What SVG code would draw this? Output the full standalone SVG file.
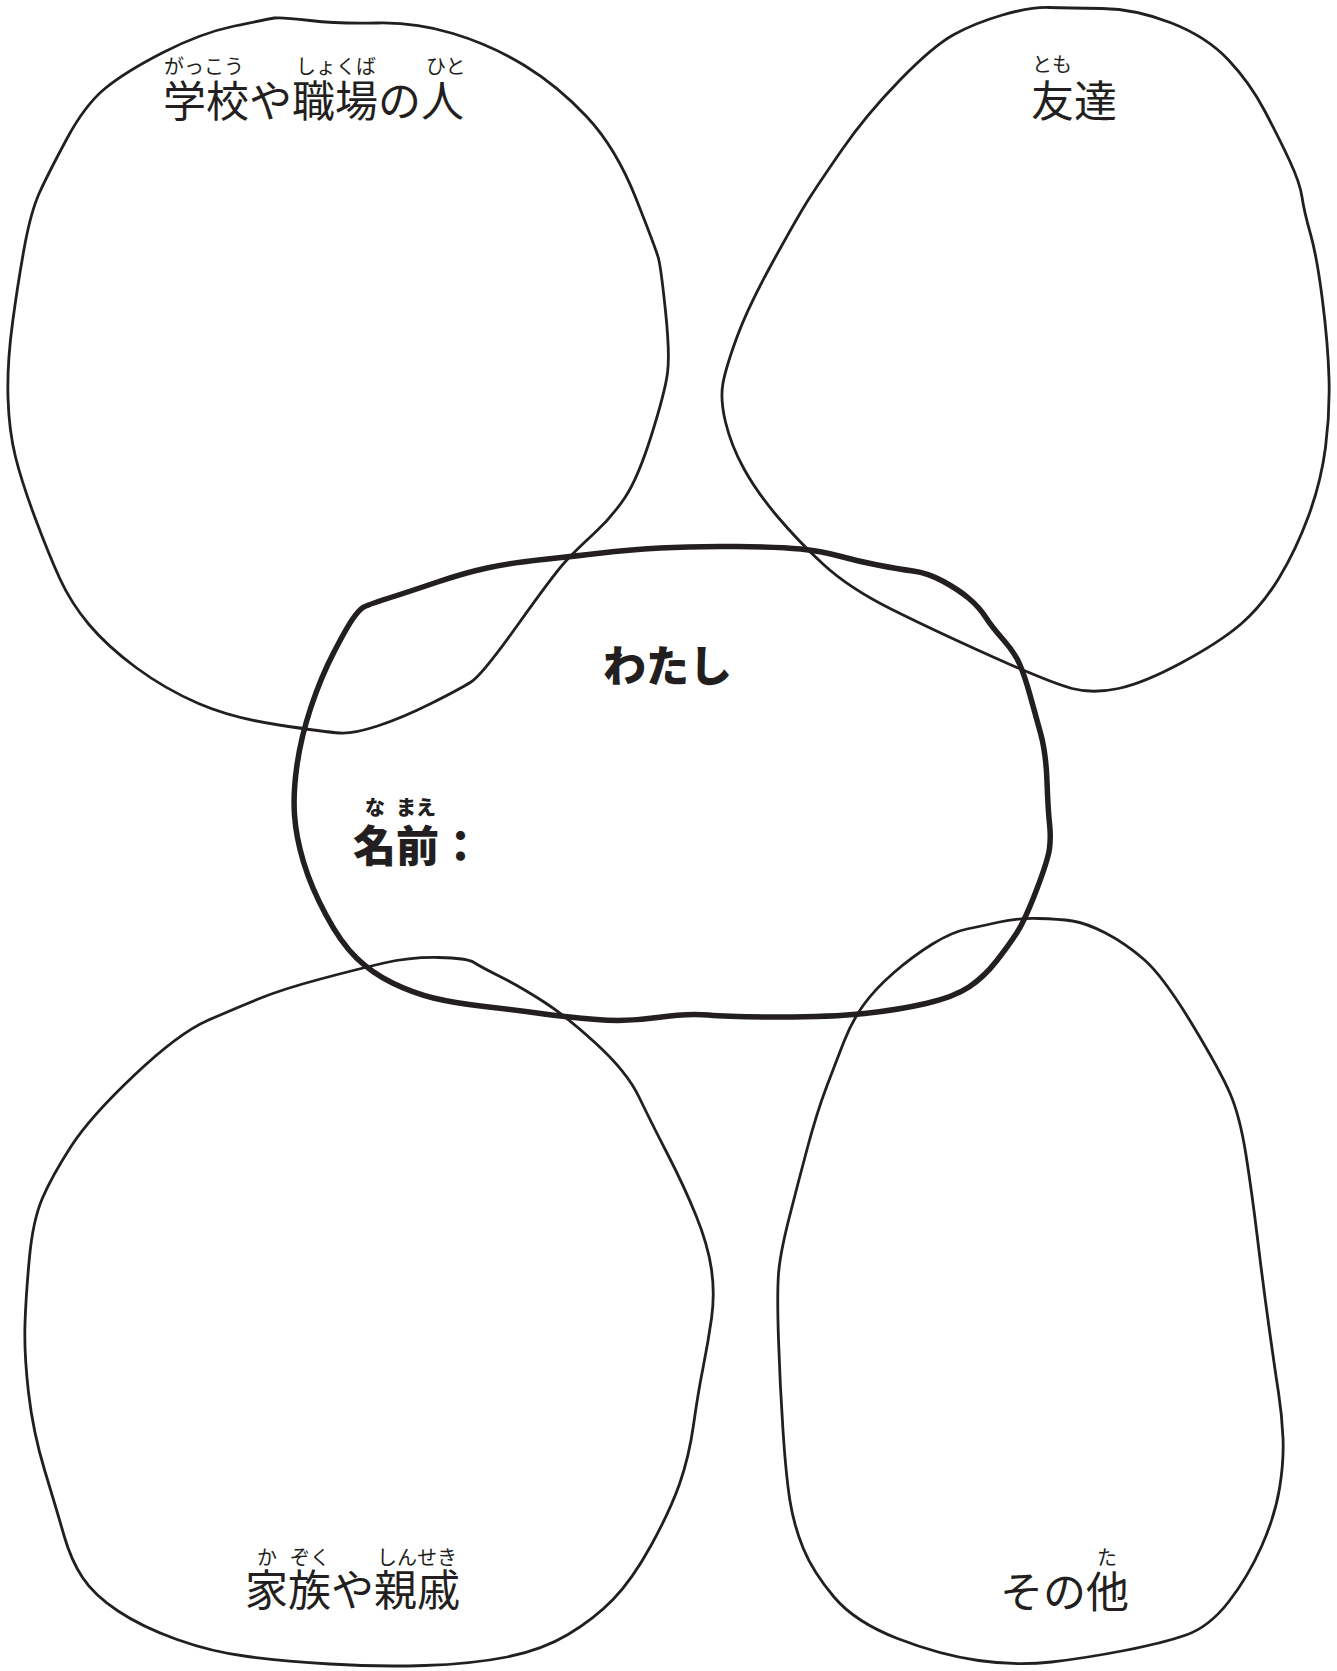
<svg xmlns="http://www.w3.org/2000/svg" width="1337" height="1671" viewBox="0 0 1337 1671">
<style>
  .blob { fill: none; stroke: #231f20; stroke-width: 2.8; stroke-linejoin: round; }
  .me { fill: none; stroke: #231f20; stroke-width: 5.5; stroke-linejoin: round; }
  .lbl { font-family: "Noto Sans CJK JP", "Noto Sans", sans-serif; fill: #231f20; font-size: 43px; }
  .ruby { font-family: "Noto Sans CJK JP", "Noto Sans", sans-serif; fill: #231f20; font-size: 20px; }
  .blbl { font-family: "Noto Sans CJK JP", "Noto Sans", sans-serif; fill: #231f20; font-size: 43px; font-weight: 900; }
  .bruby { font-family: "Noto Sans CJK JP", "Noto Sans", sans-serif; fill: #231f20; font-size: 20px; font-weight: 900; }
</style>
<rect width="1337" height="1671" fill="#ffffff"/>

<g id="school-work">
  <path class="blob" d="M310,20.5 Q339,24 377,23 Q415,22 453,33.5 Q491,45 524.5,65.5 Q558,86 587,117 Q616,148 636,198.5 Q656,249 658.5,258.5 Q661,268 665.5,311 Q670,354 667.5,373 Q665,392 651.5,435 Q638,478 625,497.5 Q612,517 594,533.5 Q576,550 565,562 Q554,574 518,624.5 Q482,675 471,682 Q460,689 431,703.5 Q402,718 377.5,726 Q353,734 339.5,733 Q326,732 279,725 Q232,718 198.5,703.5 Q165,689 136,667.5 Q107,646 89,624.5 Q71,603 60,579 Q49,555 35.5,519 Q22,483 15.5,457 Q9,431 8,397.5 Q7,364 12.5,323 Q18,282 24.5,246.5 Q31,211 40,191.5 Q49,172 67,138.5 Q85,105 105,88.5 Q125,72 163,52.5 Q201,33 234.5,26 Q268,19 274.5,18 Q281,17 310,20.5 Z"/>
  <text class="ruby" x="164" y="74">がっこう</text>
  <text class="ruby" x="296" y="74">しょくば</text>
  <text class="ruby" x="426" y="74">ひと</text>
  <text class="lbl" x="163" y="117">学校や職場の人</text>
</g>

<g id="friends">
  <path class="blob" d="M1102,8.5 Q1136,9 1171.5,23 Q1207,37 1228.5,60 Q1250,83 1264.5,110.5 Q1279,138 1289.5,160.5 Q1300,183 1302,197 Q1304,211 1310.5,234 Q1317,257 1322.5,300.5 Q1328,344 1329,378.5 Q1330,413 1325.5,447.5 Q1321,482 1308.5,516 Q1296,550 1279,578 Q1262,606 1241,624 Q1220,642 1182,662.5 Q1144,683 1118.5,688.5 Q1093,694 1072,688.5 Q1051,683 992,656.5 Q933,630 891,609 Q849,588 823.5,564.5 Q798,541 777,516 Q756,491 743.5,468 Q731,445 725.5,422 Q720,399 723,383 Q726,367 737,337 Q748,307 773,261.5 Q798,216 808.5,199.5 Q819,183 842.5,149 Q866,115 899.5,80.5 Q933,46 954,34.5 Q975,23 1002.5,15 Q1030,7 1049,7.5 Q1068,8 1102,8.5 Z"/>
  <text class="ruby" x="1032" y="72">とも</text>
  <text class="lbl" x="1031" y="117">友達</text>
</g>

<g id="family">
  <path class="blob" d="M384,963 Q410,957 438.5,957.5 Q467,958 474,962.5 Q481,967 500,976.5 Q519,986 542.5,1001 Q566,1016 596.5,1044 Q627,1072 639,1097 Q651,1122 667.5,1154 Q684,1186 696,1215.5 Q708,1245 711.5,1269.5 Q715,1294 711.5,1318.5 Q708,1343 703,1368 Q698,1393 693.5,1425 Q689,1457 679.5,1484 Q670,1511 651,1545.5 Q632,1580 613,1599.5 Q594,1619 568,1634.5 Q542,1650 507,1657 Q472,1664 424.5,1665.5 Q377,1667 330,1664 Q283,1661 247.5,1656.5 Q212,1652 177,1639.5 Q142,1627 118,1611 Q94,1595 82.5,1577.5 Q71,1560 64,1535.5 Q57,1511 45,1471.5 Q33,1432 28.5,1392.5 Q24,1353 25,1323.5 Q26,1294 29.5,1257 Q33,1220 42.5,1198 Q52,1176 71,1146.5 Q90,1117 134.5,1075 Q179,1033 207.5,1020.5 Q236,1008 259.5,998.5 Q283,989 320.5,979 Q358,969 384,963 Z"/>
  <text class="ruby" x="257" y="1565">か</text>
  <text class="ruby" x="290" y="1565">ぞく</text>
  <text class="ruby" x="377" y="1565">しんせき</text>
  <text class="lbl" x="245" y="1606">家族や親戚</text>
</g>

<g id="others">
  <path class="blob" d="M1038,918.5 Q1059,919 1072.5,921 Q1086,923 1105.5,933 Q1125,943 1144,959.5 Q1163,976 1192,1024 Q1221,1072 1230.5,1094.5 Q1240,1117 1246,1155 Q1252,1193 1257.5,1238.5 Q1263,1284 1269,1327 Q1275,1370 1278.5,1392.5 Q1282,1415 1283,1438 Q1284,1461 1279.5,1488.5 Q1275,1516 1261.5,1546.5 Q1248,1577 1228.5,1602 Q1209,1627 1186,1635 Q1163,1643 1124.5,1650.5 Q1086,1658 1051.5,1662 Q1017,1666 978.5,1660.5 Q940,1655 897.5,1638.5 Q855,1622 834,1597 Q813,1572 803.5,1549 Q794,1526 790,1501 Q786,1476 783,1430.5 Q780,1385 778.5,1339.5 Q777,1294 778.5,1274 Q780,1254 789,1218.5 Q798,1183 807.5,1147.5 Q817,1112 826.5,1087 Q836,1062 844,1041.5 Q852,1021 863.5,1005 Q875,989 894,972.5 Q913,956 932.5,944 Q952,932 967,929 Q982,926 999.5,922 Q1017,918 1038,918.5 Z"/>
  <text class="ruby" x="1097" y="1565">た</text>
  <text class="lbl" x="1000" y="1608">その他</text>
</g>

<g id="me">
  <path class="me" d="M387.5,598.5 Q408,592 436,582.5 Q464,573 487,568 Q510,563 543,559.5 Q576,556 601.5,553 Q627,550 660,548 Q693,546 736.5,546.5 Q780,547 800.5,549 Q821,551 839,556 Q857,561 877.5,565 Q898,569 913,571 Q928,573 943.5,581.5 Q959,590 969,598.5 Q979,607 985.5,617 Q992,627 1003.5,640 Q1015,653 1020,665 Q1025,677 1030,695 Q1035,713 1040.5,733 Q1046,753 1047,781.5 Q1048,810 1049.5,823.5 Q1051,837 1049.5,848.5 Q1048,860 1036.5,890 Q1025,920 1017,932.5 Q1009,945 996.5,961 Q984,977 969,987 Q954,997 926,1003.5 Q898,1010 864.5,1013.5 Q831,1017 780,1017 Q729,1017 708.5,1015 Q688,1013 657.5,1017.5 Q627,1022 596.5,1019.5 Q566,1017 540.5,1013.5 Q515,1010 484.5,1006.5 Q454,1003 433.5,998 Q413,993 392.5,983 Q372,973 356.5,958 Q341,943 326,915 Q311,887 303.5,862 Q296,837 294.5,815 Q293,793 297,765 Q301,737 311,707 Q321,677 334,652 Q347,627 353,618.5 Q359,610 363,607.5 Q367,605 387.5,598.5 Z"/>
  <text class="blbl" x="603" y="682">わたし</text>
  <text class="bruby" x="365" y="815">な</text>
  <text class="bruby" x="396" y="815">まえ</text>
  <text class="blbl" x="353" y="862">名前：</text>
</g>
</svg>
